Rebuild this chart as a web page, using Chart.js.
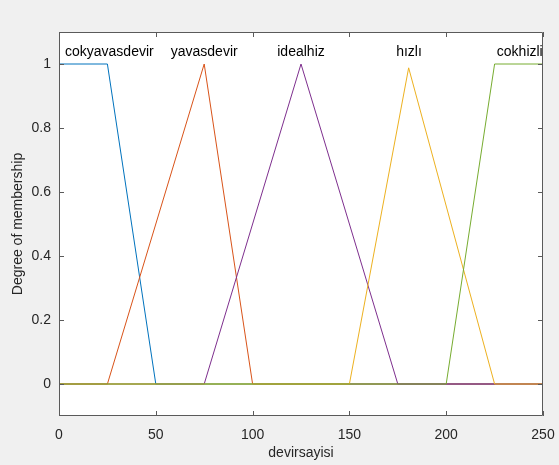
<!DOCTYPE html>
<html><head><meta charset="utf-8">
<script src="https://cdn.jsdelivr.net/npm/chart.js@4/dist/chart.umd.min.js"></script>
<style>html,body{margin:0;padding:0;background:#f0f0f0}#wrap{width:559px;height:465px}</style>
</head><body><div id="wrap"><canvas id="c" width="559" height="465"></canvas></div>
<script>
const seriesNames = ['cokyavasdevir','yavasdevir','idealhiz','hızlı','cokhizli'];
const cokyavasX = [0,25,50,250];      const cokyavasY = [1,1,0,0];
const yavasX = [0,25,75,100,250];     const yavasY = [0,0,1,0,0];
const idealX = [0,75,125,175,250];    const idealY = [0,0,1,0,0];
const hizliX = [0,150,180.6,225,250]; const hizliY = [0,0,0.988,0,0];
const cokhizliX = [0,200,225,250];    const cokhizliY = [0,0,1,1];
const labelX = [26,75,125,180.8,238];
const labelY = [1.04,1.04,1.04,1.04,1.04];
const xTicks = [0,50,100,150,200,250];
const yTicks = [0,0.2,0.4,0.6,0.8,1];
const colors = ['#0072BD','#D95319','#7E2F8E','#EDB120','#77AC30'];

const xs=[cokyavasX,yavasX,idealX,hizliX,cokhizliX];
const ys=[cokyavasY,yavasY,idealY,hizliY,cokhizliY];
const FONT='"Liberation Sans", Arial, sans-serif';
const AX='#262626';

const datasets = seriesNames.map((n,i)=>({
  label:n,
  data: xs[i].map((x,j)=>({x:x,y:ys[i][j]})),
  borderColor:colors[i], backgroundColor:colors[i],
  borderWidth:1, pointRadius:0, tension:0, fill:false,
  order: 4-i
}));

const bgPlugin={id:'bg',beforeDraw(chart){const c=chart.ctx;c.save();c.fillStyle='#f0f0f0';c.fillRect(0,0,chart.width,chart.height);const a=chart.chartArea;c.fillStyle='#fff';c.fillRect(a.left,a.top,a.right-a.left,a.bottom-a.top);c.restore();}};
const framePlugin={id:'frame',afterDatasetsDraw(chart){
  const c=chart.ctx,a=chart.chartArea,xs_=chart.scales.x,ys_=chart.scales.y;
  c.save();
  c.strokeStyle='#5a5a5a';c.lineWidth=1;
  c.beginPath();
  c.rect(Math.round(a.left)+0.5,Math.round(a.top)+0.5,Math.round(a.right-a.left)-1,Math.round(a.bottom-a.top)-1);
  c.stroke();
  c.beginPath();
  xTicks.forEach(v=>{const p=Math.round(xs_.getPixelForValue(v))+0.5;c.moveTo(p,a.bottom);c.lineTo(p,a.bottom-5);c.moveTo(p,a.top);c.lineTo(p,a.top+5);});
  yTicks.forEach(v=>{const p=Math.round(ys_.getPixelForValue(v))+0.5;c.moveTo(a.left,p);c.lineTo(a.left+5,p);c.moveTo(a.right,p);c.lineTo(a.right-5,p);});
  c.stroke();
  c.fillStyle='#000';c.font='14px '+FONT;c.textAlign='center';c.textBaseline='middle';
  seriesNames.forEach((n,i)=>{c.fillText(n,xs_.getPixelForValue(labelX[i]),ys_.getPixelForValue(labelY[i])+1);});
  c.restore();
}};

new Chart(document.getElementById('c'),{
  type:'line',
  data:{datasets},
  plugins:[bgPlugin,framePlugin],
  options:{
    responsive:false,animation:false,
    layout:{padding:{top:32,right:16,left:0,bottom:0}},
    plugins:{legend:{display:false},tooltip:{enabled:false}},
    scales:{
      x:{type:'linear',min:0,max:250,
        afterFit(s){s.height=49;s.paddingLeft=0;s.paddingRight=0;},
        afterBuildTicks(s){s.ticks=xTicks.map(v=>({value:v}));},
        grid:{display:false,drawTicks:false},border:{display:false},
        ticks:{color:AX,font:{family:FONT,size:14},padding:11,maxRotation:0,callback:v=>String(v)},
        title:{display:true,text:'devirsayisi',color:AX,font:{family:FONT,size:14},padding:{bottom:3}}},
      y:{type:'linear',min:-0.1,max:1.1,
        afterFit(s){s.width=59;s.paddingTop=0;s.paddingBottom=0;},
        afterBuildTicks(s){s.ticks=yTicks.map(v=>({value:v}));},
        grid:{display:false,drawTicks:false},border:{display:false},
        ticks:{color:AX,font:{family:FONT,size:14},padding:8,callback:v=>String(v)},
        title:{display:true,text:'Degree of membership',color:AX,font:{family:FONT,size:14},padding:{top:10}}}
    }
  }
});
</script></body></html>
